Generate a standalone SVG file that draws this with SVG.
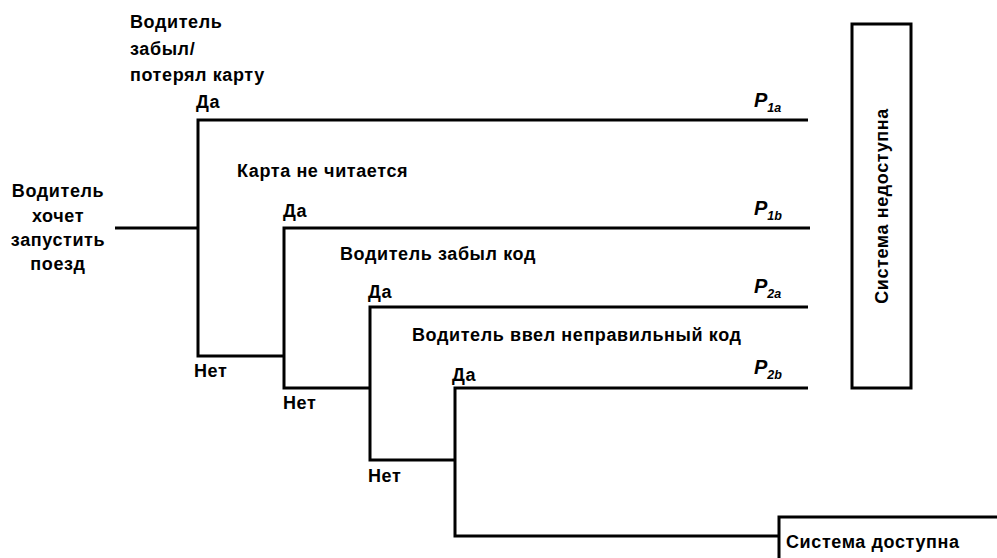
<svg xmlns="http://www.w3.org/2000/svg" width="997" height="558" viewBox="0 0 997 558">
<style>
.t{font-family:"Liberation Sans",Arial,sans-serif;font-size:18px;font-weight:bold;letter-spacing:0.6px;fill:#000}
.p{font-family:"Liberation Sans",Arial,sans-serif;font-size:20px;font-style:italic;font-weight:bold;fill:#000}
.s{font-size:12.5px;font-weight:bold}
.ln{stroke:#000;stroke-width:3;fill:none}
.box{stroke:#000;stroke-width:3;fill:#fff}
</style>
<rect width="997" height="558" fill="#fff"/>
<g id="connectors">
<path class="ln" d="M115,228 H198"/>
<path class="ln" d="M808,120 H198 V356 H284"/>
<path class="ln" d="M810,228 H284 V388 H370"/>
<path class="ln" d="M808,307 H370 V460 H455"/>
<path class="ln" d="M808,388 H455 V536 H780"/>
</g>
<g id="start">
<text class="t" text-anchor="middle" x="58" y="197">Водитель</text>
<text class="t" text-anchor="middle" x="58" y="222">хочет</text>
<text class="t" text-anchor="middle" x="58" y="246">запустить</text>
<text class="t" text-anchor="middle" x="58" y="270">поезд</text>
</g>
<g id="q1">
<text class="t" x="130" y="28">Водитель</text>
<text class="t" x="130" y="55">забыл/</text>
<text class="t" x="130" y="81">потерял карту</text>
<text class="t" x="196" y="108">Да</text>
<text class="t" x="194" y="377">Нет</text>
</g>
<g id="q2">
<text class="t" x="237" y="177">Карта не читается</text>
<text class="t" x="283" y="217">Да</text>
<text class="t" x="283" y="409">Нет</text>
</g>
<g id="q3">
<text class="t" x="340" y="260">Водитель забыл код</text>
<text class="t" x="368" y="298">Да</text>
<text class="t" x="368" y="482">Нет</text>
</g>
<g id="q4">
<text class="t" x="412" y="341">Водитель ввел неправильный код</text>
<text class="t" x="452" y="381">Да</text>
</g>
<g id="probs">
<text class="p" x="754" y="107">P<tspan class="s" dy="5">1a</tspan></text>
<text class="p" x="754" y="215">P<tspan class="s" dy="5">1b</tspan></text>
<text class="p" x="754" y="293">P<tspan class="s" dy="5">2a</tspan></text>
<text class="p" x="754" y="374">P<tspan class="s" dy="5">2b</tspan></text>
</g>
<g id="unavailable">
<rect class="box" x="852" y="24" width="59" height="364"/>
<text class="t" text-anchor="middle" transform="translate(888,206) rotate(-90)">Система недоступна</text>
</g>
<g id="available">
<rect class="box" x="779" y="517" width="230" height="50"/>
<text class="t" x="786" y="548">Система доступна</text>
</g>
</svg>
